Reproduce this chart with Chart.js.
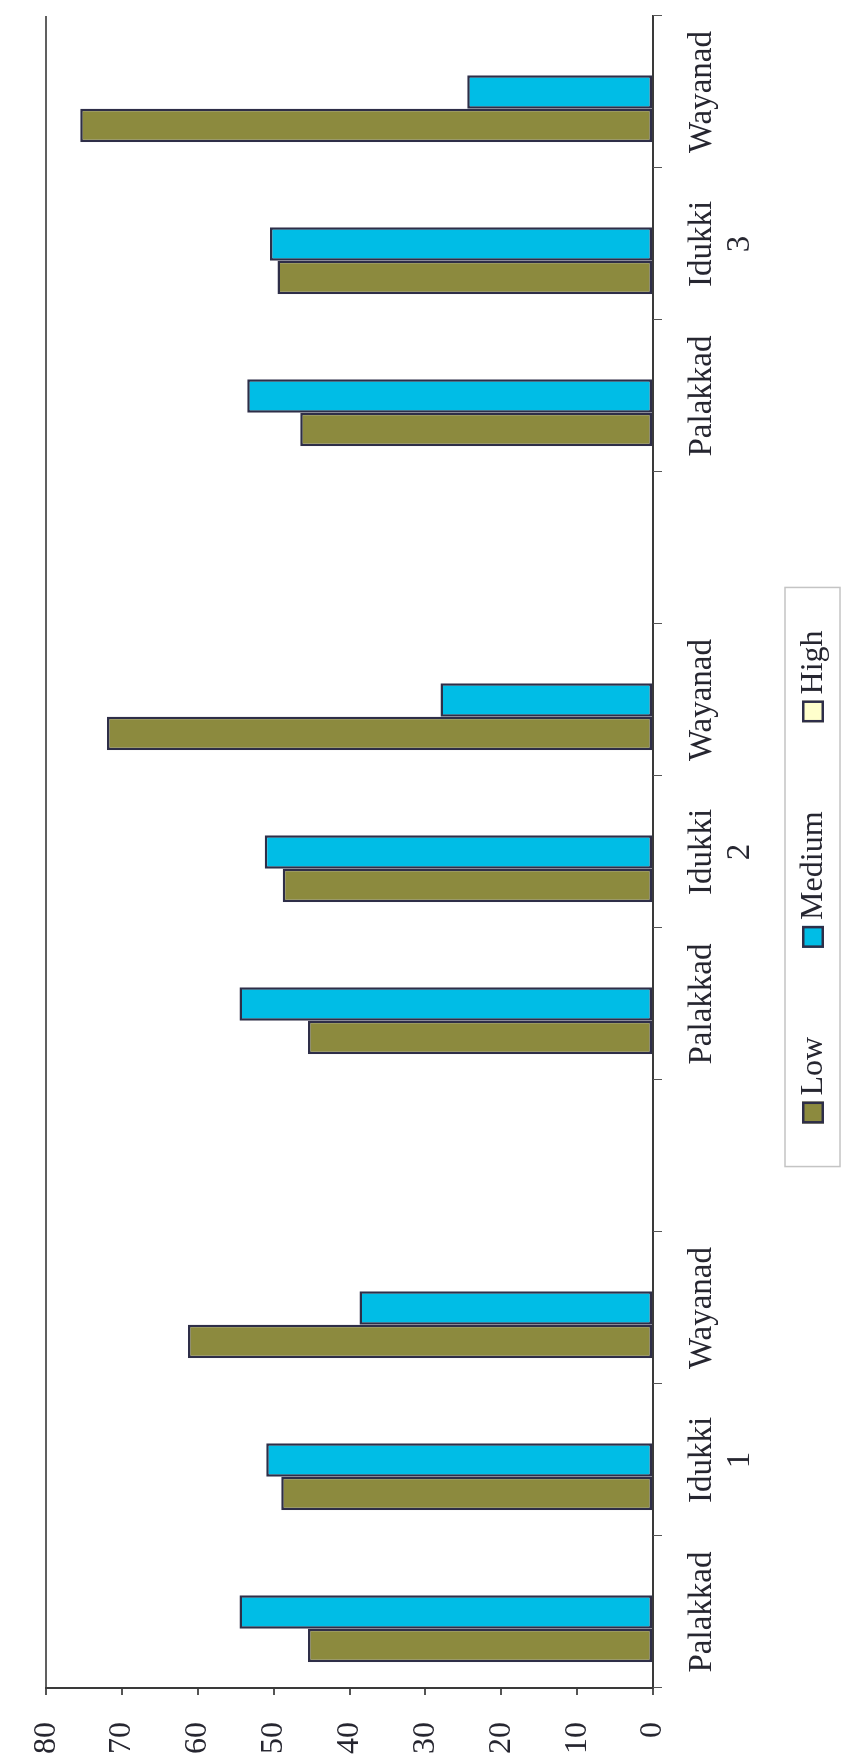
<!DOCTYPE html>
<html>
<head>
<meta charset="utf-8">
<script src="https://cdn.jsdelivr.net/npm/chart.js@4.4.1/dist/chart.umd.min.js"></script>
<style>
  html, body { margin: 0; padding: 0; background: #ffffff; overflow: hidden; }
  body { width: 842px; height: 1754px; position: relative; }
  /* the chart is laid out landscape and turned a quarter turn to stand on the page */
  #frame {
    position: absolute; left: 0; top: 0;
    width: 1754px; height: 842px;
    transform-origin: 0 0;
    transform: translate(0px, 1754px) rotate(-90deg);
    background: #ffffff;
  }
  canvas { display: block; }
</style>
</head>
<body>
<div id="frame"><canvas id="chart" width="1754" height="842"></canvas></div>
<script>
// districts per survey round; blank slots separate the rounds
const districts = ['Palakkad', ['Idukki', '1'], 'Wayanad', '',
                   'Palakkad', ['Idukki', '2'], 'Wayanad', '',
                   'Palakkad', ['Idukki', '3'], 'Wayanad'];
const lowValues    = [45.5, 49.0, 61.3, null, 45.5, 48.8, 72.0, null, 46.5, 49.5, 75.5];
const mediumValues = [54.5, 51.0, 38.7, null, 54.5, 51.2, 28.0, null, 53.5, 50.5, 24.5];
const highValues   = [0, 0, 0, null, 0, 0, 0, null, 0, 0, 0];
const valueTicks   = [0, 10, 20, 30, 40, 50, 60, 70, 80];
const seriesNames  = ['Low', 'Medium', 'High'];
const seriesFill   = ['#8c8a3e', '#00bde6', '#ffffcc'];

const SERIF = '"Liberation Serif", "Times New Roman", serif';
const INK = '#262630';
const EDGE = '#2e2e48';
const AXIS = '#3a3a3a';

// short tick marks between the category slots, below the category axis
const categoryTicks = {
  id: 'categoryTicks',
  afterDraw(chart) {
    const xs = chart.scales.x;
    const n = chart.data.labels.length;
    const band = n > 1 ? xs.getPixelForValue(1) - xs.getPixelForValue(0) : xs.width;
    const ctx = chart.ctx;
    ctx.save();
    ctx.strokeStyle = '#555555';
    ctx.lineWidth = 1;
    for (let i = 0; i <= n; i++) {
      const px = Math.round(xs.getPixelForValue(0) - band / 2 + i * band) + 0.5;
      ctx.beginPath();
      ctx.moveTo(px, xs.top);
      ctx.lineTo(px, xs.top + 9);
      ctx.stroke();
    }
    ctx.restore();
  }
};

// boxed legend centred under the plot
const boxedLegend = {
  id: 'boxedLegend',
  afterDraw(chart) {
    const ctx = chart.ctx;
    const size = 22, gap = 6, spacing = 89, pad = 43;
    const midY = 813;
    ctx.save();
    ctx.font = '32px ' + SERIF;
    const widths = seriesNames.map(n => ctx.measureText(n).width);
    let content = 0;
    widths.forEach((w, i) => { content += size + gap + w + (i < widths.length - 1 ? spacing : 0); });
    const boxW = content + pad * 2;
    const boxL = (chart.width - boxW) / 2;
    ctx.strokeStyle = '#c4c4c4';
    ctx.lineWidth = 1.5;
    ctx.strokeRect(boxL, 785, boxW, 55);
    let x = boxL + pad;
    seriesNames.forEach((name, i) => {
      ctx.fillStyle = seriesFill[i];
      ctx.fillRect(x, midY - size / 2, size, size);
      ctx.strokeStyle = EDGE;
      ctx.lineWidth = 2.5;
      ctx.strokeRect(x + 1.25, midY - size / 2 + 1.25, size - 2.5, size - 2.5);
      ctx.fillStyle = INK;
      ctx.textBaseline = 'middle';
      ctx.textAlign = 'left';
      ctx.fillText(name, x + size + gap, midY + 1);
      x += size + gap + widths[i] + spacing;
    });
    ctx.restore();
  }
};

const makeSet = (label, data, i) => ({
  label, data,
  backgroundColor: seriesFill[i],
  borderColor: EDGE,
  borderWidth: 2.5,
  borderSkipped: false,
  barPercentage: 1.0,
  categoryPercentage: 0.66
});

new Chart(document.getElementById('chart'), {
  type: 'bar',
  data: {
    labels: districts,
    datasets: [
      makeSet(seriesNames[0], lowValues, 0),
      makeSet(seriesNames[1], mediumValues, 1),
      makeSet(seriesNames[2], highValues, 2)
    ]
  },
  options: {
    responsive: false,
    animation: false,
    devicePixelRatio: 1,
    layout: { padding: { left: 0, right: 16, top: 46, bottom: 0 } },
    plugins: { legend: { display: false }, tooltip: { enabled: false } },
    scales: {
      x: {
        type: 'category',
        offset: true,
        afterFit(scale) { scale.height = 189; },
        grid: { display: false, drawTicks: false, tickLength: 0 },
        border: { display: true, color: AXIS, width: 2 },
        ticks: {
          autoSkip: false,
          maxRotation: 0,
          minRotation: 0,
          padding: 30,
          color: INK,
          font: { family: SERIF, size: 33, lineHeight: 1.15 }
        }
      },
      y: {
        min: 0,
        max: 80,
        afterFit(scale) { scale.width = 66; },
        afterBuildTicks(scale) { scale.ticks = valueTicks.map(v => ({ value: v })); },
        grid: {
          drawOnChartArea: true,
          drawTicks: true,
          tickLength: 7,
          lineWidth: 2,
          color: ctx => (ctx.tick && ctx.tick.value === 80 ? '#606060' : 'rgba(0,0,0,0)'),
          tickColor: '#555555'
        },
        border: { display: true, color: AXIS, width: 2 },
        ticks: {
          padding: 27,
          color: INK,
          font: { family: SERIF, size: 32 }
        }
      }
    }
  },
  plugins: [categoryTicks, boxedLegend]
});
</script>
</body>
</html>
